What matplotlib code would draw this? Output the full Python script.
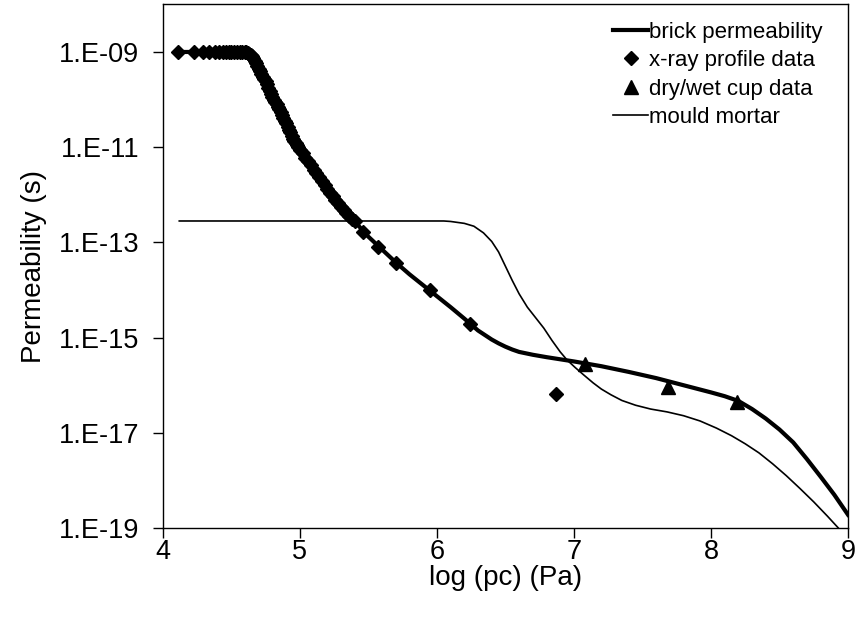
import numpy as np
import matplotlib.pyplot as plt
from matplotlib.ticker import FixedLocator, FuncFormatter, NullLocator

# ---- data (x = log pc, values are log10 of permeability) ----
brick_x = [4.10, 4.50, 4.60, 4.65, 4.70, 4.75, 4.80, 4.85, 4.90, 4.95, 5.00,
           5.10, 5.20, 5.30, 5.40, 5.50, 5.60, 5.70, 5.80, 5.90, 6.00, 6.10,
           6.20, 6.30, 6.40, 6.45, 6.50, 6.55, 6.60, 6.70, 6.80, 7.00, 7.20,
           7.40, 7.60, 7.80, 8.00, 8.10, 8.20, 8.30, 8.40, 8.50, 8.60, 8.70,
           8.80, 8.90, 9.00]
brick_logk = [-9.0, -9.0, -9.0, -9.09, -9.35, -9.62, -9.95, -10.2, -10.5, -10.82, -11.05,
              -11.47, -11.88, -12.25, -12.56, -12.88, -13.15, -13.42, -13.67, -13.9, -14.13, -14.36,
              -14.6, -14.85, -15.04, -15.12, -15.19, -15.25, -15.3, -15.36, -15.41, -15.5, -15.6,
              -15.72, -15.85, -16.0, -16.15, -16.23, -16.33, -16.5, -16.7, -16.93, -17.2, -17.55,
              -17.92, -18.3, -18.72]

xray_x = [4.11, 4.23, 4.29, 4.34, 4.38, 4.41, 4.44, 4.46, 4.48, 4.50, 4.52, 4.54,
          4.56, 4.58, 4.60, 4.61, 4.62, 4.63, 4.64, 4.65, 4.66, 4.67, 4.68, 4.69,
          4.70, 4.71, 4.72, 4.73, 4.74, 4.75, 4.76, 4.77, 4.78, 4.79, 4.80, 4.81,
          4.82, 4.83, 4.84, 4.85, 4.86, 4.87, 4.88, 4.89, 4.90, 4.91, 4.92, 4.93,
          4.94, 4.95, 4.96, 4.97, 4.98, 4.99, 5.00, 5.02, 5.04, 5.06, 5.08, 5.10,
          5.12, 5.14, 5.16, 5.18, 5.20, 5.22, 5.24, 5.26, 5.28, 5.30, 5.32, 5.34,
          5.36, 5.38, 5.40, 5.46, 5.57, 5.70, 5.95, 6.24, 6.87]
xray_logk = [-9.0, -9.0, -9.0, -9.0, -9.0, -9.0, -9.0, -9.0, -9.0, -9.0, -9.0, -9.0,
             -9.0, -9.0, -9.0, -9.01, -9.02, -9.04, -9.06, -9.09, -9.13, -9.18, -9.23, -9.29,
             -9.35, -9.41, -9.47, -9.52, -9.57, -9.62, -9.68, -9.75, -9.81, -9.88, -9.95, -10.0,
             -10.05, -10.1, -10.15, -10.2, -10.26, -10.32, -10.38, -10.44, -10.5, -10.57, -10.63, -10.69,
             -10.76, -10.82, -10.87, -10.92, -10.96, -11.0, -11.05, -11.13, -11.22, -11.3, -11.38, -11.47,
             -11.55, -11.63, -11.72, -11.8, -11.88, -11.96, -12.03, -12.11, -12.18, -12.25, -12.32, -12.38,
             -12.44, -12.5, -12.56, -12.78, -13.1, -13.43, -14.0, -14.71, -16.18]

cup_x = [7.08, 7.69, 8.19]
cup_logk = [-15.55, -16.04, -16.35]

mortar_x = [4.12, 6.05, 6.10, 6.20, 6.27, 6.34, 6.40, 6.45, 6.50, 6.55, 6.60,
            6.66, 6.72, 6.78, 6.84, 6.90, 6.95, 7.01, 7.07, 7.14, 7.20, 7.27,
            7.35, 7.45, 7.56, 7.68, 7.80, 7.92, 8.04, 8.15, 8.25, 8.35, 8.45,
            8.55, 8.65, 8.75, 8.85, 8.93, 8.97]
mortar_logk = [-12.55, -12.55, -12.56, -12.6, -12.66, -12.8, -12.98, -13.2, -13.5, -13.8, -14.08,
               -14.36, -14.58, -14.8, -15.06, -15.3, -15.47, -15.63, -15.78, -15.95, -16.08, -16.2,
               -16.32, -16.42, -16.5, -16.56, -16.64, -16.75, -16.9, -17.06, -17.23, -17.42, -17.65,
               -17.9, -18.17, -18.45, -18.75, -19.0, -19.15]

y_ticks = [-19, -17, -15, -13, -11, -9]

# ---- plot ----
plt.rcParams.update({'font.family': 'Liberation Sans'})
fig = plt.figure(figsize=(8.57, 6.22), dpi=100)
ax = fig.add_axes([0.190, 0.151, 0.7995, 0.842])

ax.plot(brick_x, 10.0 ** np.array(brick_logk), color='black', linewidth=3.0,
        label='brick permeability', zorder=3)
ax.plot(xray_x, 10.0 ** np.array(xray_logk), linestyle='none', marker='D',
        markersize=7.5, color='black', label='x-ray profile data', zorder=4)
ax.plot(cup_x, 10.0 ** np.array(cup_logk), linestyle='none', marker='^',
        markersize=10.5, color='black', label='dry/wet cup data', zorder=4)
ax.plot(mortar_x, 10.0 ** np.array(mortar_logk), color='black', linewidth=1.2,
        label='mould mortar', zorder=2)

ax.set_yscale('log')
ax.set_xlim(4, 9)
ax.set_ylim(1e-19, 1e-8)
ax.set_xticks([4, 5, 6, 7, 8, 9])
ax.yaxis.set_major_locator(FixedLocator([10.0 ** t for t in y_ticks]))
ax.yaxis.set_minor_locator(NullLocator())
ax.yaxis.set_major_formatter(FuncFormatter(lambda v, p: '1.E-%02d' % round(-np.log10(v))))

ax.tick_params(axis='both', direction='out', length=7, width=1, labelsize=19.5)
ax.tick_params(axis='x', pad=1)
ax.tick_params(axis='y', pad=10)
for s in ax.spines.values():
    s.set_linewidth(1.0)

ax.set_xlabel('log (pc) (Pa)', fontsize=20, labelpad=0)
ax.set_ylabel('Permeability (s)', fontsize=20, labelpad=8)

ax.legend(loc='upper right', bbox_to_anchor=(0.982, 0.992), frameon=False,
          fontsize=16, handlelength=1.55, handletextpad=0.05, labelspacing=0.33,
          borderaxespad=0.2)

plt.savefig('out.png', dpi=100)
